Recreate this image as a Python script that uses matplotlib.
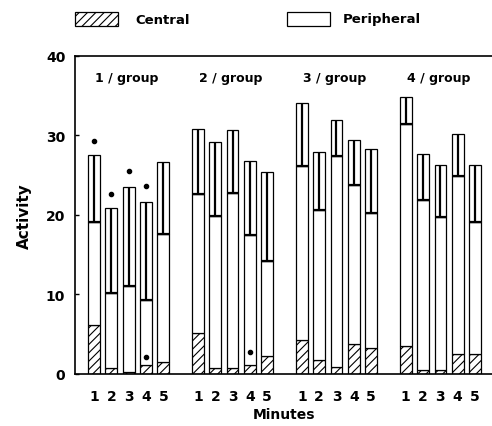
import matplotlib
matplotlib.use('Agg')
from matplotlib import pyplot as plt
from matplotlib.patches import Rectangle
import numpy as np

plt.rcParams['font.family'] = ['DejaVu Sans']
plt.rcParams['hatch.linewidth'] = 0.8

groups = ['1 / group', '2 / group', '3 / group', '4 / group']
minutes = ['1', '2', '3', '4', '5']

# central (hatched) part, one row per group, one value per minute
central = [[6.2, 0.8, 0.3, 1.1, 1.5],
           [5.1, 0.8, 0.8, 1.1, 2.2],
           [4.3, 1.7, 0.9, 3.8, 3.3],
           [3.5, 0.5, 0.5, 2.5, 2.5]]
# total activity (central + peripheral)
total = [[19.1, 10.2, 11.0, 9.3, 17.6],
         [22.6, 19.9, 22.8, 17.5, 14.2],
         [26.2, 20.6, 27.4, 23.8, 20.2],
         [31.4, 21.9, 19.7, 24.9, 19.1]]
# upper end of the error part
upper = [[27.5, 20.9, 23.5, 21.6, 26.6],
         [30.8, 29.2, 30.7, 26.8, 25.4],
         [34.0, 27.9, 31.9, 29.4, 28.3],
         [34.8, 27.6, 26.3, 30.1, 26.3]]
# significance dots: (group, minute, value)
dots = [(0, 0, 29.3), (0, 1, 22.6), (0, 2, 25.5), (0, 3, 23.6),
        (0, 3, 2.1), (1, 3, 2.8)]

fig = plt.figure(figsize=(4.92, 4.27), dpi=100)
ax = fig.add_axes([75/492, 1-375/427, 1-75/492, (375-56.7)/427])

w = 0.68
pos = []
for g in range(len(groups)):
    x = g*6 + np.arange(len(minutes))
    pos.extend(x)
    c = np.array(central[g])
    t = np.array(total[g])
    u = np.array(upper[g])
    ax.bar(x, c, w, color='white', edgecolor='black', hatch='////', lw=0.9)
    ax.bar(x, t-c, w, bottom=c, color='white', edgecolor='black', lw=0.9)
    ax.bar(x, u-t, w, bottom=t, color='white', edgecolor='black', lw=0.9)
    ax.vlines(x, t, u, color='black', lw=1.6)
    ax.hlines(t, x-w/2, x+w/2, color='black', lw=1.6)
    ax.text(x[0]+0.05, 37.2, groups[g], ha='left', va='center',
            fontsize=9, fontweight='bold')

for g, m, v in dots:
    ax.plot(g*6 + m, v, 'o', color='black', ms=3)

ax.set_xlim(-1.1, 22.98)
ax.set_ylim(0, 40)
ax.set_yticks([0, 10, 20, 30, 40])
ax.set_xticks(pos)
ax.set_xticklabels(minutes*len(groups))
ax.tick_params(axis='x', length=0, pad=11, labelsize=10)
ax.tick_params(axis='y', direction='in', length=3, width=1, labelsize=10, pad=7)
for lab in ax.get_xticklabels() + ax.get_yticklabels():
    lab.set_fontweight('bold')
ax.spines['right'].set_visible(False)
for s in ['left', 'bottom', 'top']:
    ax.spines[s].set_linewidth(1.2)
ax.set_xlabel('Minutes', fontsize=10, fontweight='bold', labelpad=3)
ax.set_ylabel('Activity', fontsize=11, fontweight='bold', labelpad=10)

# legend drawn at the top of the figure
fig.patches.append(Rectangle((75/492, 1-27/427), 43/492, 14/427,
                             transform=fig.transFigure, facecolor='white',
                             edgecolor='black', hatch='////', lw=0.9))
fig.text(135/492, 1-20/427, 'Central', ha='left', va='center',
         fontsize=9.5, fontweight='bold')
fig.patches.append(Rectangle((287/492, 1-27/427), 43/492, 14/427,
                             transform=fig.transFigure, facecolor='white',
                             edgecolor='black', lw=0.9))
fig.text(343/492, 1-20/427, 'Peripheral', ha='left', va='center',
         fontsize=9.5, fontweight='bold')

fig.savefig('out.png', dpi=100)
